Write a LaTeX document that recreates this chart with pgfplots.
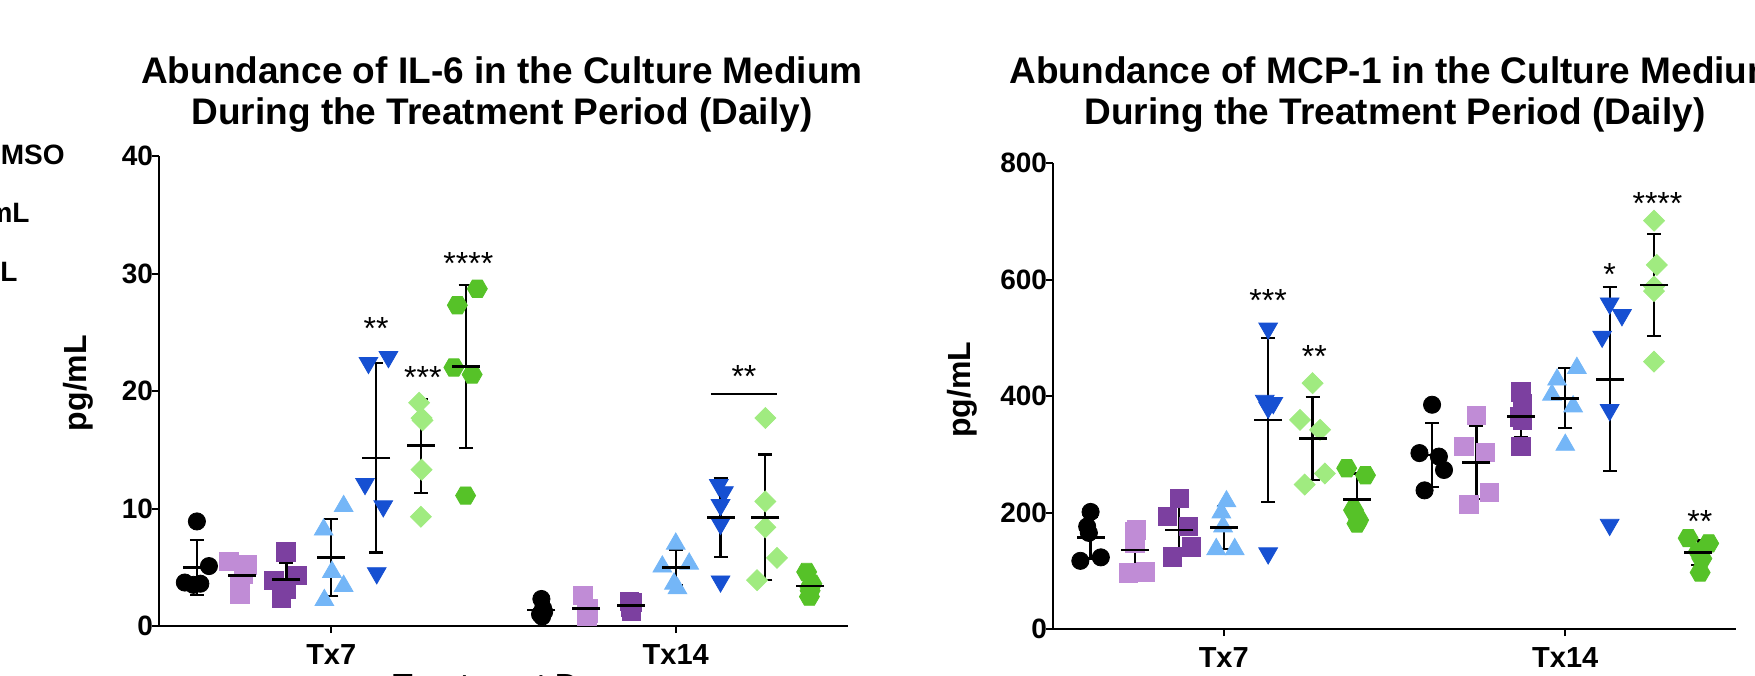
\documentclass[border=0pt]{standalone}
\usepackage{fontspec}
\setmainfont{Liberation Sans}
\usepackage{pgfplots}
\pgfplotsset{compat=1.18}

\definecolor{lav}{RGB}{192,140,214}
\definecolor{dpur}{RGB}{124,64,160}
\definecolor{lblue}{RGB}{116,182,247}
\definecolor{cblue}{RGB}{22,80,210}
\definecolor{lgreen}{RGB}{160,235,128}
\definecolor{cgreen}{RGB}{86,194,40}

% flat-topped filled hexagon
\pgfdeclareplotmark{hexagon*}{%
  \pgfpathmoveto{\pgfpointpolar{0}{\pgfplotmarksize}}%
  \pgfpathlineto{\pgfpointpolar{60}{\pgfplotmarksize}}%
  \pgfpathlineto{\pgfpointpolar{120}{\pgfplotmarksize}}%
  \pgfpathlineto{\pgfpointpolar{180}{\pgfplotmarksize}}%
  \pgfpathlineto{\pgfpointpolar{240}{\pgfplotmarksize}}%
  \pgfpathlineto{\pgfpointpolar{300}{\pgfplotmarksize}}%
  \pgfpathclose
  \pgfusepathqfillstroke}

\pgfplotsset{
  prism/.style={
    scale only axis, anchor=south west, clip=false,
    axis x line*=bottom, axis y line*=left,
    axis line style={line width=1pt,-},
    x axis line style={-}, y axis line style={-},
    tick style={line width=1pt, black},
    major tick length=3.5pt, tick align=outside,
    xmin=0.5, xmax=2.5, xtick={1,2}, xticklabels={Tx7,Tx14},
    ymin=0,
    /pgf/number format/assume math mode=true,
    xticklabel style={font=\fontsize{14.5}{16}\selectfont\bfseries, inner sep=1pt, yshift=-4.5pt},
    yticklabel style={font=\fontsize{14}{16}\selectfont\bfseries, inner sep=0.6pt, xshift=1.3pt},
    label style={font=\fontsize{16}{19}\selectfont\bfseries},
    xlabel={Treatment Day},
    xlabel style={at={(axis description cs:0.5,0)}, anchor=north, yshift=-24pt, inner sep=0pt},
    ylabel={pg/mL},
  },
  meansd/.style={only marks, black, mark=-, mark size=7pt, mark options={line width=1.4pt},
    error bars/.cd, y dir=both, y explicit, error mark=|,
    error bar style={line width=1.1pt, black},
    error mark options={line width=1.1pt, mark size=3.5pt, black}},
  dots/.style={only marks, mark size=#1},
}
\newcommand{\stars}[1]{{\fontsize{16}{18}\selectfont #1}}

\begin{document}
\begin{tikzpicture}
\path[use as bounding box] (0,0) rectangle (877.5pt,337.5pt);
\clip (0,0) rectangle (877.5pt,337.5pt);

% ---------------- IL-6 ----------------
\begin{axis}[prism, at={(79.5pt,24.5pt)}, width=344.5pt, height=235pt,
  ymax=40, ytick={0,10,20,30,40},
  ylabel style={at={(axis description cs:-0.1176,0.517)}, anchor=center}]
\addplot[dots=4.3pt, mark=*, black] coordinates {
  (0.61,8.9) (0.645,5.1) (0.575,3.7) (0.62,3.6) (0.60,3.5)
  (1.61,2.3) (1.615,1.5) (1.618,1.2) (1.606,1.0) (1.612,0.8)};
\addplot[dots=4.6pt, mark=square*, lav] coordinates {
  (0.703,5.5) (0.757,5.2) (0.745,4.4) (0.735,3.6) (0.735,2.7)
  (1.73,2.6) (1.745,1.5) (1.74,1.4) (1.745,1.1) (1.742,0.8)};
\addplot[dots=4.6pt, mark=square*, dpur] coordinates {
  (0.868,6.3) (0.902,4.3) (0.834,3.9) (0.868,3.1) (0.856,2.4)
  (1.865,2.1) (1.875,2.0) (1.87,1.8) (1.868,1.6) (1.872,1.3)};
\addplot[dots=5.4pt, mark=triangle*, lblue] coordinates {
  (1.036,10.2) (0.978,8.2) (1.002,4.6) (1.036,3.4) (0.98,2.2)
  (2.0,7.0) (1.961,5.05) (2.039,5.3) (1.995,3.6) (2.005,3.2)};
\addplot[dots=5.4pt, mark=triangle*, cblue, mark options={rotate=180}] coordinates {
  (1.108,22.4) (1.166,22.9) (1.098,12.1) (1.151,10.2) (1.132,4.5)
  (2.125,12.0) (2.14,11.4) (2.13,10.3) (2.13,8.7) (2.13,3.8)};
\addplot[dots=3.7pt, mark=square*, lgreen, mark options={rotate=45}] coordinates {
  (1.255,19.0) (1.262,17.7) (1.265,17.5) (1.262,13.3) (1.26,9.3)
  (2.26,17.7) (2.26,10.6) (2.26,8.4) (2.294,5.8) (2.236,3.9)};
\addplot[dots=5pt, mark=hexagon*, cgreen] coordinates {
  (1.366,27.3) (1.424,28.7) (1.356,22.0) (1.409,21.4) (1.39,11.1)
  (2.38,4.6) (2.395,3.6) (2.39,3.3) (2.39,3.0) (2.388,2.5)};
\addplot[meansd] coordinates {
  (0.61,4.96) +- (0,2.33)  (0.74,4.28) +- (0,1.13)  (0.87,3.97) +- (0,1.42)
  (1.00,5.82) +- (0,3.3)   (1.13,14.3) +- (0,8.05)  (1.26,15.35) +- (0,4.0)
  (1.39,22.07) +- (0,6.95)
  (1.61,1.36) +- (0,0.6)   (1.74,1.48) +- (0,0.68)  (1.87,1.76) +- (0,0.33)
  (2.00,4.96) +- (0,1.48)  (2.13,9.25) +- (0,3.38)  (2.26,9.25) +- (0,5.35)
  (2.39,3.4) +- (0,0.7)};
\node[yshift=-3.4pt] at (axis cs:1.13,25.9) {\stars{**}};
\node[yshift=-3.4pt] at (axis cs:1.266,21.7) {\stars{***}};
\node[yshift=-3.4pt] at (axis cs:1.398,31.4) {\stars{****}};
\node[yshift=-3.4pt] at (axis cs:2.198,21.8) {\stars{**}};
\draw[line width=1.4pt] (axis cs:2.102,19.74) -- (axis cs:2.294,19.74);
\end{axis}

% ---------------- MCP-1 ----------------
\begin{axis}[prism, at={(526.5pt,23pt)}, width=341.5pt, height=233pt,
  ymax=800, ytick={0,200,400,600,800},
  ylabel style={at={(axis description cs:-0.1332,0.513)}, anchor=center}]
\addplot[dots=4.3pt, mark=*, black] coordinates {
  (0.61,201) (0.60,176) (0.605,165) (0.58,117) (0.64,123)
  (1.61,385) (1.573,302) (1.63,296) (1.645,273) (1.588,238)};
\addplot[dots=4.6pt, mark=square*, lav] coordinates {
  (0.745,170) (0.74,167) (0.74,147) (0.72,96) (0.77,98)
  (1.74,367) (1.703,313) (1.767,303) (1.777,234) (1.718,214)};
\addplot[dots=4.6pt, mark=square*, dpur] coordinates {
  (0.87,224) (0.835,193) (0.897,176) (0.906,141) (0.85,124)
  (1.87,407) (1.875,387) (1.865,364) (1.875,359) (1.87,313)};
\addplot[dots=5.4pt, mark=triangle*, lblue] coordinates {
  (1.008,219) (0.993,200) (0.998,176) (0.978,137) (1.032,137)
  (2.034,448) (1.976,428) (1.961,402) (2.023,382) (2.0,316)};
\addplot[dots=5.4pt, mark=triangle*, cblue, mark options={rotate=180}] coordinates {
  (1.13,516) (1.12,392) (1.145,388) (1.13,380) (1.13,130)
  (2.13,559) (2.166,539) (2.108,502) (2.13,376) (2.13,179)};
\addplot[dots=3.7pt, mark=square*, lgreen, mark options={rotate=45}] coordinates {
  (1.26,422) (1.223,359) (1.282,342) (1.296,267) (1.237,248)
  (2.26,701) (2.268,625) (2.26,588) (2.26,580) (2.26,459)};
\addplot[dots=5pt, mark=hexagon*, cgreen] coordinates {
  (1.36,276) (1.415,264) (1.38,204) (1.395,187) (1.39,181)
  (2.36,156) (2.42,147) (2.39,133) (2.40,121) (2.395,97)};
\addplot[meansd] coordinates {
  (0.61,156.8) +- (0,35.8)  (0.74,135.6) +- (0,37.2)  (0.87,170) +- (0,40)
  (1.00,174) +- (0,36.5)    (1.13,358.8) +- (0,140.7) (1.26,327) +- (0,71.5)
  (1.39,222.6) +- (0,44.3)
  (1.61,298.7) +- (0,54.5)  (1.74,285.6) +- (0,62.7)  (1.87,364.5) +- (0,35)
  (2.00,396) +- (0,51.5)    (2.13,428.6) +- (0,158)   (2.26,590.6) +- (0,87.5)
  (2.39,131.6) +- (0,21.7)};
\node[yshift=-3.4pt] at (axis cs:1.13,576) {\stars{***}};
\node[yshift=-3.4pt] at (axis cs:1.265,479) {\stars{**}};
\node[yshift=-3.4pt] at (axis cs:2.13,620) {\stars{*}};
\node[yshift=-3.4pt] at (axis cs:2.27,743) {\stars{****}};
\node[yshift=-3.4pt] at (axis cs:2.394,195.7) {\stars{**}};
\end{axis}

% titles
\node[anchor=north, align=center, inner sep=0pt,
  font=\fontsize{18.5}{20.5}\selectfont\bfseries] at (251pt,309.5pt)
  {Abundance of IL-6 in the Culture Medium\\During the Treatment Period (Daily)};
\node[anchor=north, align=center, inner sep=0pt,
  font=\fontsize{18.5}{20.5}\selectfont\bfseries] at (697.5pt,309.5pt)
  {Abundance of MCP-1 in the Culture Medium\\During the Treatment Period (Daily)};

% legend entries, cut by the left edge
\begin{scope}[every node/.style={anchor=base east, inner sep=0pt,
  font=\fontsize{14}{16}\selectfont\bfseries}]
\node at (32.5pt,255pt) {DMSO};
\node at (15pt,226pt) {10 ng/mL};
\node at (9pt,196.5pt) {1 ng/mL};
\end{scope}
\end{tikzpicture}
\end{document}
